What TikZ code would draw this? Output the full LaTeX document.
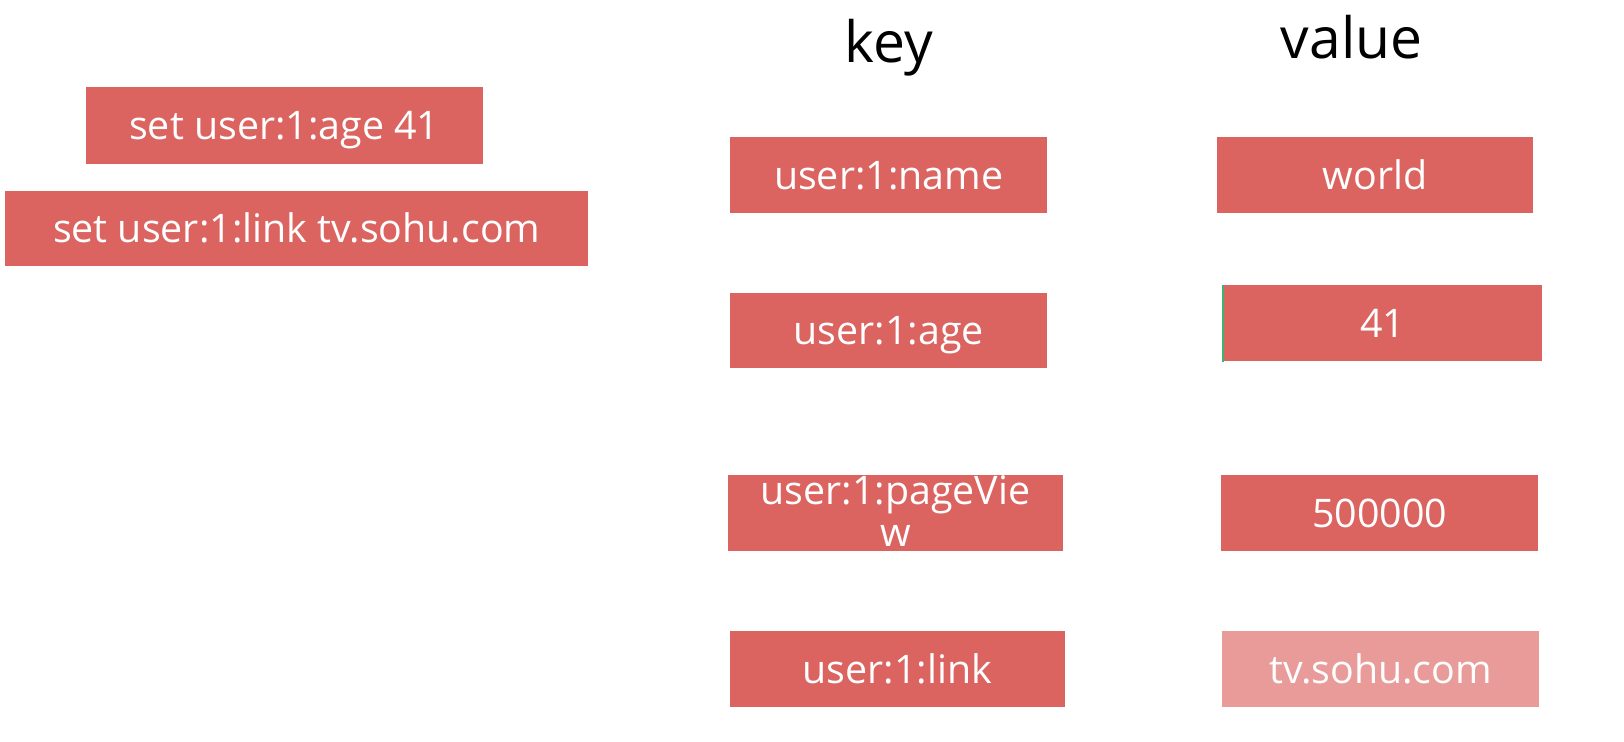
\documentclass[tikz,border=0pt]{standalone}
\usepackage{fontspec}
\setmainfont{Open Sans}
\definecolor{boxred}{HTML}{DB6461}
\definecolor{boxlight}{HTML}{E89B99}
\definecolor{edgegreen}{HTML}{3CB371}
\begin{document}
\begin{tikzpicture}[x=1pt,y=-1pt,scale=1.03571,transform shape,
  kv/.style={fill=boxred, draw=none, text=white, inner sep=0pt, text height=30pt, text depth=2pt, font=\fontsize{38}{38}\selectfont},
  hdr/.style={text=black, inner sep=0pt, font=\fontsize{55}{60}\selectfont}]
\useasboundingbox[fill=white] (0,0) rectangle (1568,715.45);
% header
\node[hdr, anchor=base] (key) at (858,60) {key};
\node[hdr, anchor=base] (value) at (1305,56) {value};
% commands
\node[kv, minimum width=383pt, minimum height=74pt] (c1) at (274.5,121) {set user:1:age 41};
\node[kv, minimum width=563pt, minimum height=73pt] (c2) at (286.5,220.5) {set user:1:link tv.sohu.com};
% keys
\node[kv, minimum width=306pt, minimum height=74pt] (k1) at (858,169) {user:1:name};
\node[kv, minimum width=306pt, minimum height=72pt] (k2) at (858,319) {user:1:age};
\node[kv, minimum width=323pt, minimum height=73pt] (k3) at (864.5,495.5) {};
\node[text=white, inner sep=0pt, align=center, font=\fontsize{38}{41}\selectfont, anchor=north] (k3t) at (864.5,459) {user:1:pageVie\\w};
\node[kv, minimum width=323pt, minimum height=74pt] (k4) at (866.5,646) {user:1:link};
% values
\node[kv, minimum width=305pt, minimum height=74pt] (v1) at (1327.5,169) {world};
\node[kv, minimum width=308pt, minimum height=74pt] (v2) at (1335,312) {41};
\draw[edgegreen, line width=2pt] (v2.north west) -- (v2.south west);
\node[kv, minimum width=306pt, minimum height=73pt] (v3) at (1332,495.5) {500000};
\node[kv, fill=boxlight, minimum width=306pt, minimum height=74pt] (v4) at (1333,646) {tv.sohu.com};
\end{tikzpicture}
\end{document}
